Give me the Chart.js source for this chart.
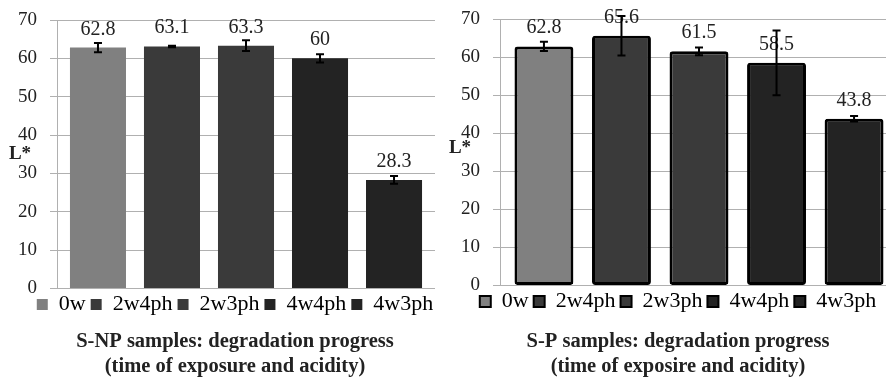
<!DOCTYPE html>
<html>
<head>
<meta charset="utf-8">
<script src="https://cdn.jsdelivr.net/npm/chart.js@4.4.1/dist/chart.umd.min.js"></script>
<style>
  html, body { margin: 0; padding: 0; background: #fff; overflow: hidden; }
  body { width: 886px; height: 383px; position: relative; }
  .box { position: absolute; top: 0; }
  #left { left: 0; }
  #right { left: 443px; }
</style>
</head>
<body>
<div class="box" id="left"><canvas id="npChart" width="470" height="383"></canvas></div>
<div class="box" id="right"><canvas id="pChart" width="470" height="383"></canvas></div>
<script>
// one group per panel, one series per sample (as in the original spreadsheet)
const samples = ['0w', '2w4ph', '2w3ph', '4w4ph', '4w3ph'];
const barColors = ['#808080', '#3a3a3a', '#3a3a3a', '#232323', '#232323'];

// S-NP samples
const npValues = [62.8, 63.1, 63.3, 60, 28.3];
const npErrors = [1.2, 0.2, 1.4, 1.1, 1.0];

// S-P samples
const pValues = [62.8, 65.6, 61.5, 58.5, 43.8];
const pErrors = [1.2, 5.2, 1.0, 8.5, 0.7];

const yTicks = [0, 10, 20, 30, 40, 50, 60, 70];

const FONT = "'Liberation Serif', serif";
const TEXT = '#222';
const GRID = '#b0b0b0';

// value labels, then error bars drawn over them
const barExtras = {
  id: 'barExtras',
  afterDatasetsDraw(chart, args, opts) {
    const ctx = chart.ctx;
    const y = chart.scales.y;
    const bars = chart.data.datasets.map((ds, i) => chart.getDatasetMeta(i).data[0]);
    const vals = chart.data.datasets.map(ds => ds.data[0]);
    ctx.save();
    ctx.font = '20px ' + FONT;
    ctx.fillStyle = TEXT;
    ctx.textAlign = 'center';
    ctx.textBaseline = 'alphabetic';
    bars.forEach((bar, i) => {
      ctx.fillText(String(vals[i]), bar.x, y.getPixelForValue(vals[i]) - 13);
    });
    ctx.strokeStyle = '#000';
    ctx.lineWidth = 2;
    bars.forEach((bar, i) => {
      const hi = y.getPixelForValue(vals[i] + opts.errors[i]);
      const lo = y.getPixelForValue(vals[i] - opts.errors[i]);
      ctx.beginPath();
      ctx.moveTo(bar.x, hi); ctx.lineTo(bar.x, lo);
      ctx.moveTo(bar.x - 4, hi); ctx.lineTo(bar.x + 4, hi);
      ctx.moveTo(bar.x - 4, lo); ctx.lineTo(bar.x + 4, lo);
      ctx.stroke();
    });
    ctx.restore();
  },
  afterDraw(chart, args, opts) {
    // horizontal "L*" axis title
    const ctx = chart.ctx;
    const a = chart.chartArea;
    ctx.save();
    ctx.font = 'bold 19px ' + FONT;
    ctx.fillStyle = TEXT;
    ctx.textAlign = 'center';
    ctx.textBaseline = 'middle';
    ctx.fillText('L*', opts.lx, (a.top + a.bottom) / 2 + opts.ly);
    ctx.restore();
  }
};

function makeChart(id, values, errors, cfg) {
  return new Chart(document.getElementById(id), {
    type: 'bar',
    data: {
      labels: [''],
      datasets: samples.map((s, i) => ({
        label: s,
        data: [values[i]],
        backgroundColor: barColors[i],
        borderColor: '#000',
        borderWidth: cfg.border,
        borderSkipped: false,
        borderRadius: cfg.border ? 3 : 0,
        barPercentage: cfg.barPct,
        categoryPercentage: cfg.catPct
      }))
    },
    plugins: [barExtras],
    options: {
      responsive: false,
      animation: false,
      devicePixelRatio: 1,
      layout: { padding: { top: cfg.top, right: 0, left: 0, bottom: 0 } },
      scales: {
        x: { display: false },
        y: {
          min: 0, max: 70,
          afterBuildTicks(axis) { axis.ticks = yTicks.map(v => ({ value: v })); },
          afterFit(axis) {
            axis.width = 57;
            axis.paddingTop = 0;
            axis.paddingBottom = 0;
          },
          border: { color: GRID, width: 1 },
          grid: { color: GRID, lineWidth: 1, tickLength: 7 },
          ticks: { color: TEXT, font: { family: FONT, size: 19 }, padding: 13 }
        },
        // empty spacer on the right so the plot ends where the original does
        spacer: {
          type: 'linear',
          position: 'right',
          afterFit(axis) { axis.width = cfg.spacer; },
          grid: { display: false },
          border: { display: false },
          ticks: { display: false }
        }
      },
      plugins: {
        barExtras: { errors: errors, lx: cfg.lx, ly: cfg.ly },
        tooltip: { enabled: false },
        legend: {
          position: 'bottom',
          labels: {
            color: TEXT,
            font: { family: FONT, size: 22 },
            boxWidth: 11,
            boxHeight: 11,
            padding: 5,
            generateLabels(chart) {
              return chart.data.datasets.map((ds, i) => ({
                text: ds.label,
                fillStyle: ds.backgroundColor,
                strokeStyle: cfg.border ? '#000' : ds.backgroundColor,
                lineWidth: cfg.border ? 2 : 0,
                hidden: false,
                datasetIndex: i
              }));
            }
          }
        },
        title: {
          display: true,
          position: 'bottom',
          text: cfg.title,
          color: TEXT,
          font: { family: FONT, size: 20.5, weight: 'bold', lineHeight: 25 / 20.5 },
          padding: { top: cfg.titleTop, bottom: 4 }
        }
      }
    }
  });
}

makeChart('npChart', npValues, npErrors, {
  border: 0, catPct: 0.979, barPct: 0.757, top: 20, spacer: 35, lx: 20, ly: 0, titleTop: 3.5,
  title: ['S-NP samples: degradation progress', '(time of exposure and acidity)']
});
makeChart('pChart', pValues, pErrors, {
  border: 3, catPct: 0.974, barPct: 0.76, top: 19, spacer: 15, lx: 17, ly: -4, titleTop: 6.5,
  title: ['S-P samples: degradation progress', '(time of exposire and acidity)']
});
</script>
</body>
</html>
